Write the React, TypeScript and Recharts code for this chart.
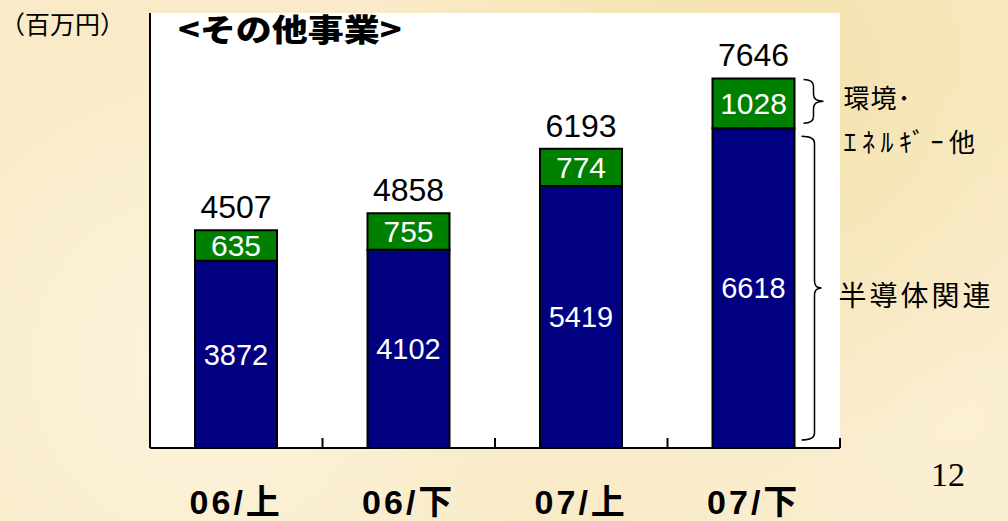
import React from 'react';
import { BarChart, Bar, XAxis, YAxis, CartesianGrid, LabelList } from 'recharts';

const periods = ['06/上', '06/下', '07/上', '07/下'];
const semiconductor = [3872, 4102, 5419, 6618];
const environment = [635, 755, 774, 1028];
const totals = [4507, 4858, 6193, 7646];

const data = periods.map((period, i) => ({
  period,
  semi: semiconductor[i],
  env: environment[i],
  total: totals[i],
}));

const SANS = '"Liberation Sans", Arial, "Noto Sans CJK JP", sans-serif';
const JP = '"Noto Sans CJK JP", "Noto Sans CJK SC", sans-serif';

// vertical curly brace, tip pointing right
const bracePath = (x0: number, xm: number, x1: number, top: number, bottom: number) => {
  const mid = (top + bottom) / 2;
  const r = 7;
  return `M${x0},${top} Q${xm},${top} ${xm},${top + r} L${xm},${mid - r} Q${xm},${mid} ${x1},${mid} ` +
    `Q${xm},${mid} ${xm},${mid + r} L${xm},${bottom - r} Q${xm},${bottom} ${x0},${bottom}`;
};

const EnvBrace = (props: any) => {
  const { x, y, width, height, index } = props;
  if (index !== periods.length - 1) return null;
  const left = x + width;
  const top = y + 1;
  const bottom = y + height - 5;
  const mid = (top + bottom) / 2;
  return (
    <g>
      <path d={bracePath(left + 9, left + 19, left + 29, top, bottom)} fill="none" stroke="#000" strokeWidth={1.5} />
      <text x={left + 49} y={mid - 5} dominantBaseline="central" fontSize={26} fontFamily={JP} fill="#000" letterSpacing={1}>
        環境･
      </text>
      <text x={left + 49} y={mid + 39} dominantBaseline="central" fontSize={26} fontFamily={JP} fill="#000" letterSpacing={5.5}>
        ｴﾈﾙｷﾞｰ他
      </text>
    </g>
  );
};

const SemiBrace = (props: any) => {
  const { x, y, width, height, index } = props;
  if (index !== periods.length - 1) return null;
  const left = x + width;
  const top = y + 8;
  const bottom = y + height - 8;
  const mid = (top + bottom) / 2;
  return (
    <g>
      <path d={bracePath(left + 7, left + 20, left + 27, top, bottom)} fill="none" stroke="#000" strokeWidth={1.5} />
      <text x={left + 44} y={mid + 6} dominantBaseline="central" fontSize={28} fontFamily={JP} fill="#000" letterSpacing={3}>
        半導体関連
      </text>
    </g>
  );
};

const PeriodTick = (props: any) => {
  const { x, y, payload } = props;
  const half = payload && payload.offset ? payload.offset : 86;
  return (
    <g>
      <line x1={x + half} y1={y} x2={x + half} y2={y - 10} stroke="#000" strokeWidth={2} />
      <text x={x} y={y + 66} textAnchor="middle" fontSize={34} fontWeight="bold" fontFamily={SANS} fill="#000" letterSpacing={3}>
        {payload.value}
      </text>
    </g>
  );
};

const App: React.FC = () => {
  return (
    <div
      style={{
        position: 'absolute',
        left: 0,
        top: 0,
        width: 1008,
        height: 521,
        overflow: 'hidden',
        background:
          'radial-gradient(circle at 20% 70%, #fdf3dc 0%, rgba(253,243,220,0) 40%),' +
          'radial-gradient(circle at 75% 15%, #f3e2ac 0%, rgba(243,226,172,0) 45%),' +
          'radial-gradient(circle at 95% 80%, #fbefd4 0%, rgba(251,239,212,0) 35%),' +
          '#f9ebc8',
      }}
    >
      <div style={{ position: 'absolute', left: 0, top: 7, fontSize: 25, fontFamily: JP, color: '#000', lineHeight: '32px', whiteSpace: 'nowrap' }}>
        （百万円）
      </div>
      <div style={{ position: 'absolute', left: 931, top: 456, fontSize: 34, fontFamily: '"Liberation Serif", "Times New Roman", serif', color: '#000' }}>
        12
      </div>
      <BarChart
        width={1008}
        height={521}
        data={data}
        margin={{ top: 13, right: 168, bottom: 0, left: 140 }}
        barSize={82}
      >
        <CartesianGrid fill="#ffffff" horizontal={false} vertical={false} />
        <XAxis
          dataKey="period"
          height={73}
          axisLine={{ stroke: '#000', strokeWidth: 2 }}
          tickLine={false}
          tickSize={0}
          tickMargin={0}
          interval={0}
          tick={<PeriodTick />}
        />
        <YAxis
          width={10}
          domain={[0, 9000]}
          tick={false}
          tickLine={false}
          axisLine={{ stroke: '#000', strokeWidth: 2 }}
        />
        <Bar dataKey="semi" stackId="a" fill="#000080" stroke="#000" strokeWidth={2} isAnimationActive={false}>
          <LabelList dataKey="semi" position="center" fill="#fff" fontSize={29} fontFamily={SANS} />
          <LabelList dataKey="semi" content={<SemiBrace />} />
        </Bar>
        <Bar dataKey="env" stackId="a" fill="#008000" stroke="#000" strokeWidth={2} isAnimationActive={false}>
          <LabelList dataKey="env" position="center" fill="#fff" fontSize={30} fontFamily={SANS} />
          <LabelList dataKey="total" position="top" offset={12} fill="#000" fontSize={32} fontFamily={SANS} />
          <LabelList dataKey="env" content={<EnvBrace />} />
        </Bar>
      </BarChart>
      <div
        style={{
          position: 'absolute',
          left: 178,
          top: 8,
          fontSize: 31,
          fontWeight: 900,
          fontFamily: JP,
          color: '#000',
          lineHeight: '40px',
          transform: 'scaleX(1.16)',
          transformOrigin: 'left center',
          whiteSpace: 'nowrap',
        }}
      >
        &lt;その他事業&gt;
      </div>
    </div>
  );
};

export default App;
